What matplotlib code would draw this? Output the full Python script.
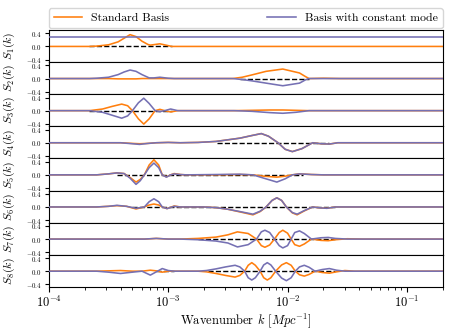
import numpy as np
import matplotlib
matplotlib.use("Agg")
import matplotlib.pyplot as plt

plt.rcParams['font.family'] = 'serif'
plt.rcParams['font.serif'] = ['cmr10']
plt.rcParams['mathtext.fontset'] = 'cm'
plt.rcParams['axes.unicode_minus'] = False
plt.rcParams['axes.formatter.use_mathtext'] = True

ORANGE = '#ff7f0e'
PURPLE = '#7570b3'

# log10(k) knots and the S_n(k) values, per panel
# (orange = standard basis, purple = basis with constant mode)
lk1 = [-4, -3.66, -3.6, -3.5, -3.42, -3.37, -3.32, -3.27, -3.22, -3.17, -3.15, -3.11, -3.07, -3.02, -2.97, -0.7]
std1 = [0, 0, 0.01, 0.05, 0.14, 0.25, 0.36, 0.30, 0.16, 0.06, 0.04, 0.06, 0.08, 0.04, 0, 0]
con1_lk = [-4, -0.7]
con1 = [0.3, 0.3]

lk2 = [-4, -3.66, -3.6, -3.5, -3.42, -3.37, -3.32, -3.27, -3.22, -3.16, -3.12, -3.07, -3.0, -2.95,
       -2.46, -2.38, -2.3, -2.18, -2.04, -1.9, -1.85, -1.82, -1.7, -1.56, -0.7]
std2 = [0, 0, 0, 0, -0.01, -0.01, -0.01, -0.01, 0, 0, 0, 0, 0, 0,
        0, 0.04, 0.11, 0.22, 0.29, 0.17, 0.06, 0, 0.01, 0, 0]
con2 = [0, 0, 0.01, 0.04, 0.12, 0.20, 0.26, 0.22, 0.12, 0.02, 0.02, 0.04, 0.01, 0,
        0, -0.03, -0.07, -0.14, -0.22, -0.14, -0.04, 0, 0, 0, 0]

lk3 = [-4, -3.66, -3.55, -3.47, -3.39, -3.34, -3.30, -3.25, -3.205, -3.16, -3.11, -3.07, -3.03, -2.98, -2.92,
       -2.45, -2.3, -2.15, -2.04, -1.93, -1.82, -0.7]
std3 = [0, 0, 0.05, 0.13, 0.20, 0.15, 0, -0.25, -0.41, -0.25, 0, 0.04, 0, -0.04, 0,
        0, 0.01, 0.02, 0.02, 0.01, 0, 0]
con3 = [0, 0, -0.05, -0.14, -0.23, -0.16, 0, 0.24, 0.38, 0.22, 0, -0.03, 0, 0.05, 0,
        0, -0.02, -0.06, -0.08, -0.05, 0, 0]

lk4 = [-4, -3.4, -3.3, -3.24, -3.17, -3.1, -3.0, -2.9, -2.75, -2.6, -2.5, -2.4, -2.3, -2.22, -2.16,
       -2.08, -2.02, -1.96, -1.88, -1.79, -1.72, -1.65, -1.58, -0.7]
std4 = [0, 0, -0.02, -0.03, -0.02, 0, 0.01, 0, 0.01, 0.04, 0.09, 0.14, 0.22, 0.28, 0.2,
        0, -0.2, -0.27, -0.18, 0, -0.03, -0.04, 0, 0]
con4 = [0, 0, -0.03, -0.05, -0.02, 0, 0.01, 0, 0.01, 0.04, 0.09, 0.14, 0.22, 0.28, 0.2,
        0, -0.2, -0.27, -0.18, 0, -0.03, -0.04, 0, 0]

lk5 = [-4, -3.6, -3.5, -3.43, -3.37, -3.32, -3.27, -3.235, -3.2, -3.16, -3.12, -3.08, -3.05, -3.015, -2.98,
       -2.95, -2.9, -2.85, -2.6, -2.4, -2.29, -2.2, -2.09, -2.02, -1.96, -1.9, -1.8, -1.7, -0.7]
std5 = [0, 0, 0.03, 0.06, 0.04, -0.08, -0.22, -0.14, 0, 0.30, 0.46, 0.30, 0, -0.06, 0,
        0.04, 0.01, 0, 0, 0.01, 0, -0.04, -0.07, -0.04, 0, 0.03, 0.01, 0, 0]
con5 = [0, 0, 0.03, 0.06, 0.04, -0.1, -0.29, -0.18, 0, 0.22, 0.36, 0.22, 0, -0.07, 0,
        0.03, 0.01, 0, 0.01, 0.02, 0, -0.1, -0.22, -0.12, 0, 0.03, 0.01, 0, 0]

lk6 = [-4, -3.6, -3.5, -3.43, -3.35, -3.27, -3.2, -3.16, -3.12, -3.08, -3.05, -3.01, -2.95, -2.9,
       -2.7, -2.6, -2.5, -2.4, -2.29, -2.23, -2.18, -2.13, -2.09, -2.05, -2.01, -1.96, -1.92, -1.86,
       -1.79, -1.72, -1.67, -1.6, -0.7]
std6 = [0, 0, 0.02, 0.04, 0.02, -0.06, 0, 0.06, 0.09, 0.06, 0, -0.05, 0.03, 0,
        0, -0.02, -0.07, -0.15, -0.24, -0.14, 0, 0.2, 0.28, 0.2, 0, -0.18, -0.24, -0.12,
        0, -0.03, -0.04, 0, 0]
con6 = [0, 0, 0.02, 0.05, 0.02, -0.04, 0, 0.16, 0.25, 0.16, 0, -0.05, 0.02, 0,
        0, -0.02, -0.07, -0.14, -0.22, -0.13, 0, 0.2, 0.28, 0.2, 0, -0.17, -0.22, -0.11,
        0, -0.03, -0.04, 0, 0]

lk7 = [-4, -3.2, -3.1, -3.0, -2.9, -2.75, -2.6, -2.5, -2.42, -2.33, -2.26, -2.22, -2.19, -2.15, -2.11,
       -2.07, -2.04, -2.0, -1.97, -1.94, -1.90, -1.86, -1.8, -1.72, -1.66, -1.6, -1.5, -1.37, -0.7]
std7 = [0, 0, 0.02, 0, 0, 0.02, 0.06, 0.13, 0.22, 0.17, 0, -0.2, -0.25, -0.18, 0,
        0.2, 0.27, 0.18, 0, -0.17, -0.22, -0.15, 0, -0.04, -0.05, -0.02, 0.01, 0, 0]
con7 = [0, 0, 0.02, 0, 0, -0.02, -0.06, -0.12, -0.24, -0.17, 0, 0.22, 0.27, 0.2, 0,
        -0.2, -0.27, -0.2, 0, 0.2, 0.25, 0.17, 0, 0.04, 0.05, 0.02, 0, 0, 0]

lk8 = [-4, -3.6, -3.5, -3.4, -3.3, -3.22, -3.15, -3.1, -3.05, -3.0, -2.95,
       -2.75, -2.68, -2.6, -2.52, -2.44, -2.40, -2.36, -2.33, -2.30, -2.27, -2.23, -2.20, -2.17, -2.14,
       -2.10, -2.05, -2.01, -1.97, -1.935, -1.90, -1.86, -1.82, -1.77, -1.71, -1.65, -1.59, -1.52, -1.44, -0.7]
std8 = [0, 0, 0.01, 0.02, 0, 0, 0.03, 0.01, -0.03, 0, 0,
        0, -0.02, -0.07, -0.13, -0.18, -0.13, 0, 0.18, 0.26, 0.18, 0, -0.2, -0.27, -0.2,
        0, 0.19, 0.26, 0.18, 0, -0.11, -0.15, -0.1, 0, -0.04, -0.06, -0.02, 0.02, 0, 0]
con8 = [0, 0, -0.03, -0.07, -0.03, 0, -0.12, -0.02, 0.08, 0.02, 0,
        0, 0.02, 0.07, 0.13, 0.18, 0.13, 0, -0.2, -0.27, -0.2, 0, 0.19, 0.26, 0.19,
        0, -0.21, -0.29, -0.2, 0, 0.13, 0.18, 0.12, 0, 0.05, 0.08, 0.03, 0, 0, 0]

# zero reference (dashed) segments, log10(k)
dashes = [
    [(-3.66, -2.97)],
    [(-2.40, -1.82)],
    [(-3.66, -2.97)],
    [(-2.59, -1.65)],
    [(-3.43, -1.87)],
    [(-3.3, -1.6)],
    [(-2.75, -1.6)],
    [(-3.1, -2.95), (-2.67, -1.6)],
]

panels = [
    (lk1, std1, con1_lk, con1),
    (lk2, std2, lk2, con2),
    (lk3, std3, lk3, con3),
    (lk4, std4, lk4, con4),
    (lk5, std5, lk5, con5),
    (lk6, std6, lk6, con6),
    (lk7, std7, lk7, con7),
    (lk8, std8, lk8, con8),
]

fig, axes = plt.subplots(8, 1, figsize=(4.57, 3.34), dpi=100, sharex=True)
fig.subplots_adjust(left=0.107, right=0.969, top=0.910, bottom=0.141, hspace=0)

for i, (ax, (lks, s, lkc, c)) in enumerate(zip(axes, panels)):
    for a, b in dashes[i]:
        ax.plot([10**a, 10**b], [0, 0], 'k--', lw=1.0, zorder=1)
    ax.plot(10**np.array(lks), s, color=ORANGE, lw=1.15, zorder=2, label='Standard Basis')
    ax.plot(10**np.array(lkc), c, color=PURPLE, lw=1.15, zorder=3, label='Basis with constant mode')
    ax.set_xscale('log')
    ax.set_xlim(1e-4, 2e-1)
    ax.set_ylim(-0.48, 0.5)
    ax.set_yticks([-0.4, 0.0, 0.4])
    ax.set_yticklabels(['$-0.4$', '$0.0$', '$0.4$'])
    ax.tick_params(axis='y', labelsize=5, length=3, pad=2)
    ax.set_ylabel('$S_{%d}(k)$' % (i + 1), fontsize=8.5)
    ax.yaxis.set_label_coords(-0.08, 0.5)

axes[-1].tick_params(axis='x', labelsize=9, pad=2)
axes[-1].set_xlabel(r'Wavenumber $k$ $[Mpc^{-1}]$', fontsize=9, labelpad=1)

axes[0].legend(bbox_to_anchor=(0, 1.06, 1, 0.62), loc='lower left', mode='expand',
               ncol=2, borderaxespad=0, fontsize=8.5, handlelength=2.4, frameon=True)

plt.savefig('out.png', dpi=100)
